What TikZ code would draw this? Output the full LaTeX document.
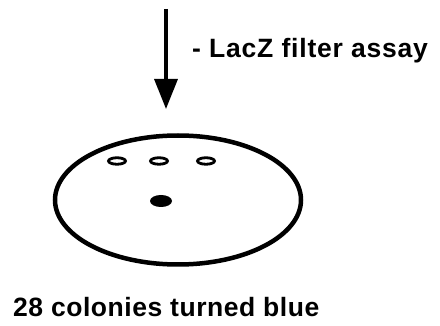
\documentclass[tikz,border=0pt]{standalone}
\usepackage{fontspec}
\setmainfont{Liberation Sans}
\usetikzlibrary{shapes.geometric,arrows.meta}
\tikzset{
  plate/.style={ellipse,draw,line width=4.5pt,inner sep=0pt,minimum width=246pt,minimum height=129pt},
  colony/.style={ellipse,draw,line width=2.8pt,inner sep=0pt,minimum width=17pt,minimum height=6.5pt},
  bluecol/.style={ellipse,fill=black,inner sep=0pt,minimum width=22pt,minimum height=12pt},
  lbl/.style={font=\fontsize{26.5}{30}\selectfont\bfseries,inner sep=0pt,anchor=base west},
  arr/.style={line width=3.3pt,-{Triangle[length=30pt,width=23pt]}}
}
\begin{document}
\begin{tikzpicture}[x=1pt,y=-1pt]
\useasboundingbox (0,0) rectangle (440,326);
\coordinate (top) at (166,9);
\coordinate (tip) at (166,109);
\draw[arr] (top) -- (tip);
\node[lbl] (assay) at (192,58) {\addfontfeature{LetterSpace=3}- LacZ filter assay};
\node[plate] (plate) at (178,200) {};
\node[colony] (c1) at (117,161) {};
\node[colony] (c2) at (159,161) {};
\node[colony] (c3) at (206,161) {};
\node[bluecol] (b1) at (161,201) {};
\node[lbl] (result) at (13,317) {\addfontfeature{LetterSpace=2}28 colonies turned blue};
\end{tikzpicture}
\end{document}
